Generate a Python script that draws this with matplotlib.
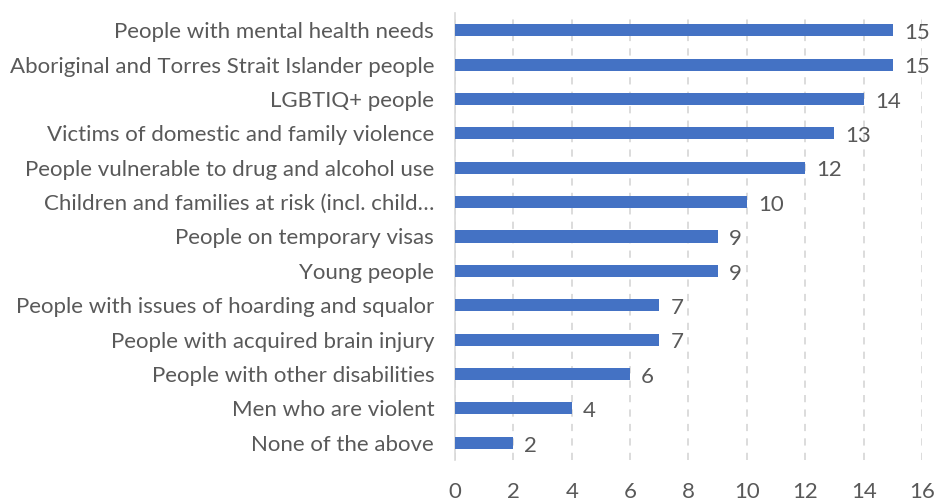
import matplotlib
matplotlib.use("Agg")
import matplotlib.pyplot as plt

plt.rcParams["font.family"] = ["Lato", "DejaVu Sans"]

# Data (top to bottom)
categories = [
    "People with mental health needs",
    "Aboriginal and Torres Strait Islander people",
    "LGBTIQ+ people",
    "Victims of domestic and family violence",
    "People vulnerable to drug and alcohol use",
    "Children and families at risk (incl. child\u2026",
    "People on temporary visas",
    "Young people",
    "People with issues of hoarding and squalor",
    "People with acquired brain injury",
    "People with other disabilities",
    "Men who are violent",
    "None of the above",
]
values = [15, 15, 14, 13, 12, 10, 9, 9, 7, 7, 6, 4, 2]
xticks = list(range(0, 17, 2))

text_color = "#595959"
bar_color = "#4472C4"

fig = plt.figure(figsize=(9.37, 4.99), dpi=100)
ax = fig.add_axes([455 / 937, 39 / 499, 467 / 937, 447 / 499])

y = list(range(len(categories)))
ax.barh(y, values, height=0.35, color=bar_color, zorder=3)
ax.set_ylim(len(categories) - 0.5, -0.5)
ax.set_xlim(0, 16)
ax.set_xticks(xticks)
ax.set_yticks(y)
ax.set_yticklabels(categories)

for yi, v in zip(y, values):
    ax.text(v + 0.38, yi + 0.08, str(v), va="center", ha="left",
            fontsize=16, color=text_color)

ax.grid(axis="x", color="#D9D9D9", linestyle=(0, (4, 4)), linewidth=1.3, zorder=0)
for s in ["top", "right", "bottom"]:
    ax.spines[s].set_visible(False)
ax.spines["left"].set_color("#D9D9D9")
ax.spines["left"].set_linewidth(1.2)
ax.tick_params(axis="both", length=0, labelsize=16, labelcolor=text_color)
ax.tick_params(axis="y", pad=15)
ax.tick_params(axis="x", pad=16)

fig.savefig("out.png", dpi=100)
